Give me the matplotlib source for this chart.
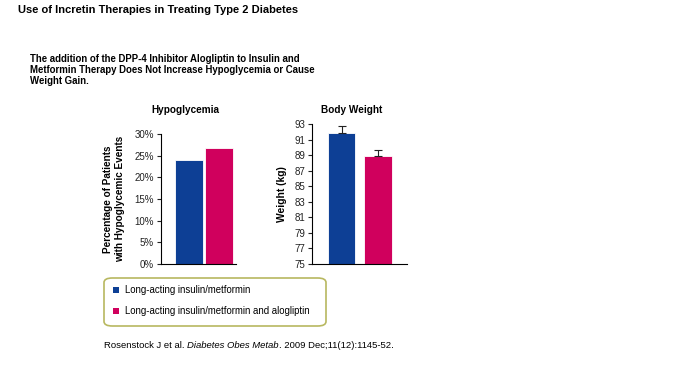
import matplotlib
matplotlib.use("Agg")
from matplotlib import pyplot as plt
from matplotlib.patches import FancyBboxPatch, Rectangle

plt.rcParams['font.family'] = ['Liberation Sans', 'DejaVu Sans']

groups = ['Long-acting insulin/metformin', 'Long-acting insulin/metformin and alogliptin']
colors = ['#0d3f95', '#d0005d']
hypo_pct = [24.0, 26.8]
weight_kg = [91.8, 88.9]
weight_err = [0.9, 0.7]
hypo_ticks = [0, 5, 10, 15, 20, 25, 30]
weight_ticks = [75, 77, 79, 81, 83, 85, 87, 89, 91, 93]

W, H = 700, 375
fig = plt.figure(figsize=(7, 3.75), dpi=100)

def px(x0, y0, x1, y1):
    # pixel box (top-left origin) -> figure fraction
    return [x0 / W, 1 - y1 / H, (x1 - x0) / W, (y1 - y0) / H]

fig.text(18 / W, 1 - 10 / H, 'Use of Incretin Therapies in Treating Type 2 Diabetes',
         fontsize=8.0, fontweight='bold', va='center', ha='left')
fig.text(30 / W, 1 - 70 / H,
         'The addition of the DPP-4 Inhibitor Alogliptin to Insulin and\n'
         'Metformin Therapy Does Not Increase Hypoglycemia or Cause\nWeight Gain.',
         fontsize=6.9, fontweight='bold', va='center', ha='left', linespacing=1.15)

def style(ax):
    for s in ['top', 'right']:
        ax.spines[s].set_visible(False)
    ax.spines['left'].set_linewidth(0.8)
    ax.spines['bottom'].set_linewidth(0.8)
    ax.set_xticks([])
    ax.tick_params(axis='y', length=3, width=0.8, labelsize=7, pad=2, colors='#222222')

# hypoglycemia
ax1 = fig.add_axes(px(161, 134, 236, 264))
ax1.bar([0, 1], hypo_pct, width=0.93, color=colors, edgecolor='white', linewidth=0.6)
ax1.set_xlim(-0.933, 1.567)
ax1.set_ylim(0, 30)
ax1.set_yticks(hypo_ticks)
ax1.set_yticklabels(['%d%%' % t for t in hypo_ticks])
style(ax1)
ax1.set_ylabel('Percentage of Patients\nwith Hypoglycemic Events', fontsize=7.2,
               fontweight='bold', linespacing=1.25, labelpad=7)
fig.text(185 / W, 1 - 110 / H, 'Hypoglycemia', fontsize=7.2, fontweight='bold',
         ha='center', va='center')

# body weight
ax2 = fig.add_axes(px(312, 124, 407, 264))
ax2.bar([0, 1], weight_kg, width=0.75, color=colors, edgecolor='white', linewidth=0.6)
ax2.errorbar([0, 1], weight_kg, yerr=[[0, 0], weight_err], fmt='none',
             ecolor='#222222', elinewidth=0.8, capsize=3, capthick=0.8)
ax2.set_xlim(-0.81, 1.79)
ax2.set_ylim(75, 93)
ax2.set_yticks(weight_ticks)
style(ax2)
ax2.set_ylabel('Weight (kg)', fontsize=7.4, fontweight='bold', labelpad=5)
fig.text(352 / W, 1 - 110 / H, 'Body Weight', fontsize=7.2, fontweight='bold',
         ha='center', va='center')

# legend box
box = FancyBboxPatch((104 / W, 1 - 326 / H), 222 / W, 48 / H,
                     boxstyle='round,pad=0,rounding_size=0.012',
                     transform=fig.transFigure, facecolor='white',
                     edgecolor='#b8b860', linewidth=1.2)
fig.add_artist(box)
for i, (g, c) in enumerate(zip(groups, colors)):
    y = 290 + i * 21
    fig.add_artist(Rectangle((113 / W, 1 - (y + 3) / H), 6 / W, 6 / H,
                             transform=fig.transFigure, facecolor=c, edgecolor='none'))
    fig.text(125 / W, 1 - y / H, g, fontsize=6.9, va='center', ha='left')

# citation, journal in italics
parts = [('Rosenstock J et al. ', 'normal'), ('Diabetes Obes Metab', 'italic'),
         ('. 2009 Dec;11(12):1145-52.', 'normal')]
renderer = fig.canvas.get_renderer()
x = 104
for s, st in parts:
    tt = fig.text(x / W, 1 - 345 / H, s, fontsize=6.8, style=st, va='center', ha='left')
    x += tt.get_window_extent(renderer).width

fig.savefig('out.png', dpi=100)
